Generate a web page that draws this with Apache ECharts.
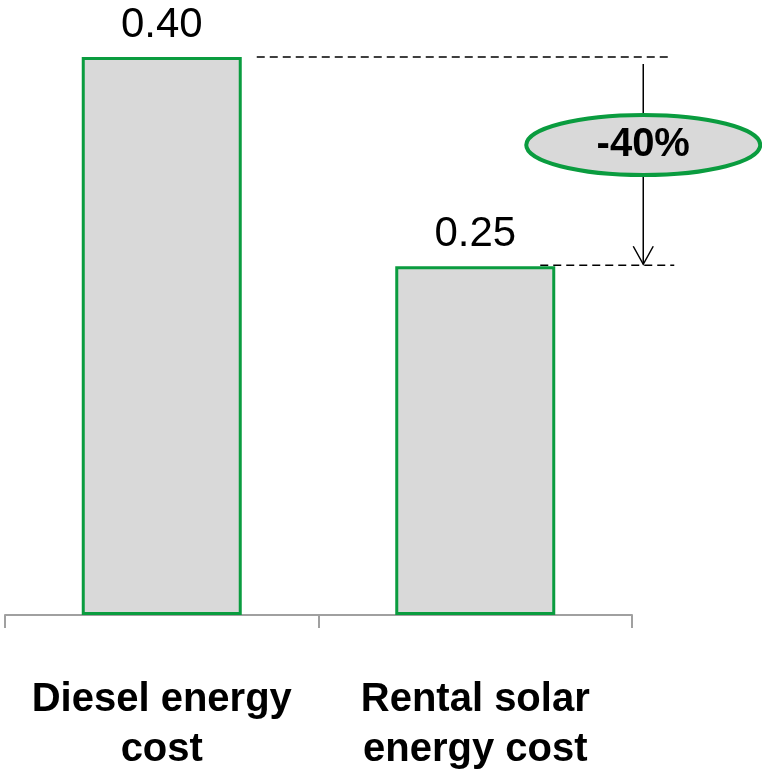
<!DOCTYPE html>
<html>
<head>
<meta charset="utf-8">
<script src="https://cdn.jsdelivr.net/npm/echarts@6/dist/echarts.min.js"></script>
<style>
html,body{margin:0;padding:0;background:#fff;}
#chart{width:762px;height:774px;}
</style>
</head>
<body>
<div id="chart"></div>
<script>
var categories = ['Diesel energy\ncost', 'Rental solar\nenergy cost'];
var costValues = [0.40, 0.25];
var changeLabel = '-40%';

var GREEN = '#0a9c3f';
var FILL = '#d9d9d9';
var FONT = '"Liberation Sans", Arial, sans-serif';

var chart = echarts.init(document.getElementById('chart'), null, {renderer: 'canvas'});
var option = {
  animation: false,
  grid: {left: 5, right: 130, top: 57, bottom: 159, containLabel: false, outerBoundsMode: 'none'},
  xAxis: {
    type: 'category',
    data: categories,
    boundaryGap: true,
    axisLine: {show: true, lineStyle: {color: '#a0a0a0', width: 2}},
    axisTick: {show: true, length: 13, lineStyle: {color: '#a0a0a0', width: 2}},
    axisLabel: {
      margin: 60,
      color: '#000',
      fontFamily: FONT,
      fontWeight: 'bold',
      fontSize: 40,
      lineHeight: 50,
      interval: 0,
      hideOverlap: false
    }
  },
  yAxis: {type: 'value', min: 0, max: 0.4, show: false, splitLine: {show: false}},
  series: [{
    type: 'bar',
    data: costValues,
    barWidth: 160,
    itemStyle: {color: FILL, borderColor: GREEN, borderWidth: 3},
    label: {
      show: true,
      position: 'top',
      distance: 11,
      color: '#000',
      fontFamily: FONT,
      fontSize: 42,
      formatter: function (p) { return p.value.toFixed(2); }
    }
  }]
};
chart.setOption(option);

// annotation derived from data
var yTop = chart.convertToPixel({yAxisIndex: 0}, costValues[0]);
var yLow = chart.convertToPixel({yAxisIndex: 0}, costValues[1]);
var x0 = chart.convertToPixel({xAxisIndex: 0}, 0);
var x1 = chart.convertToPixel({xAxisIndex: 0}, 1);
var half = 80;
var arrowX = x1 + 168;
var midY = yTop + 88;
var dash = {stroke: '#000', lineWidth: 1.5, lineDash: [8, 5]};

chart.setOption({
  graphic: [
    {type: 'line', shape: {x1: x0 + half + 15, y1: yTop, x2: arrowX + 25, y2: yTop}, style: dash, silent: true},
    {type: 'line', shape: {x1: x1 + half - 15, y1: yLow - 1, x2: arrowX + 31, y2: yLow - 1}, style: dash, silent: true},
    {type: 'line', shape: {x1: arrowX, y1: yTop + 7, x2: arrowX, y2: yLow - 2}, style: {stroke: '#000', lineWidth: 1.5}, silent: true},
    {type: 'polyline', shape: {points: [[arrowX - 10, yLow - 20], [arrowX, yLow - 2], [arrowX + 10, yLow - 20]]}, style: {stroke: '#000', lineWidth: 1.5, fill: null}, silent: true},
    {type: 'ellipse', shape: {cx: arrowX, cy: midY, rx: 117, ry: 30}, style: {fill: FILL, stroke: GREEN, lineWidth: 4}, silent: true, z: 10},
    {type: 'text', x: arrowX, y: midY, z: 11, silent: true,
     style: {text: changeLabel, fill: '#000', font: 'bold 40px ' + FONT, align: 'center', verticalAlign: 'middle'}}
  ]
});
</script>
</body>
</html>
